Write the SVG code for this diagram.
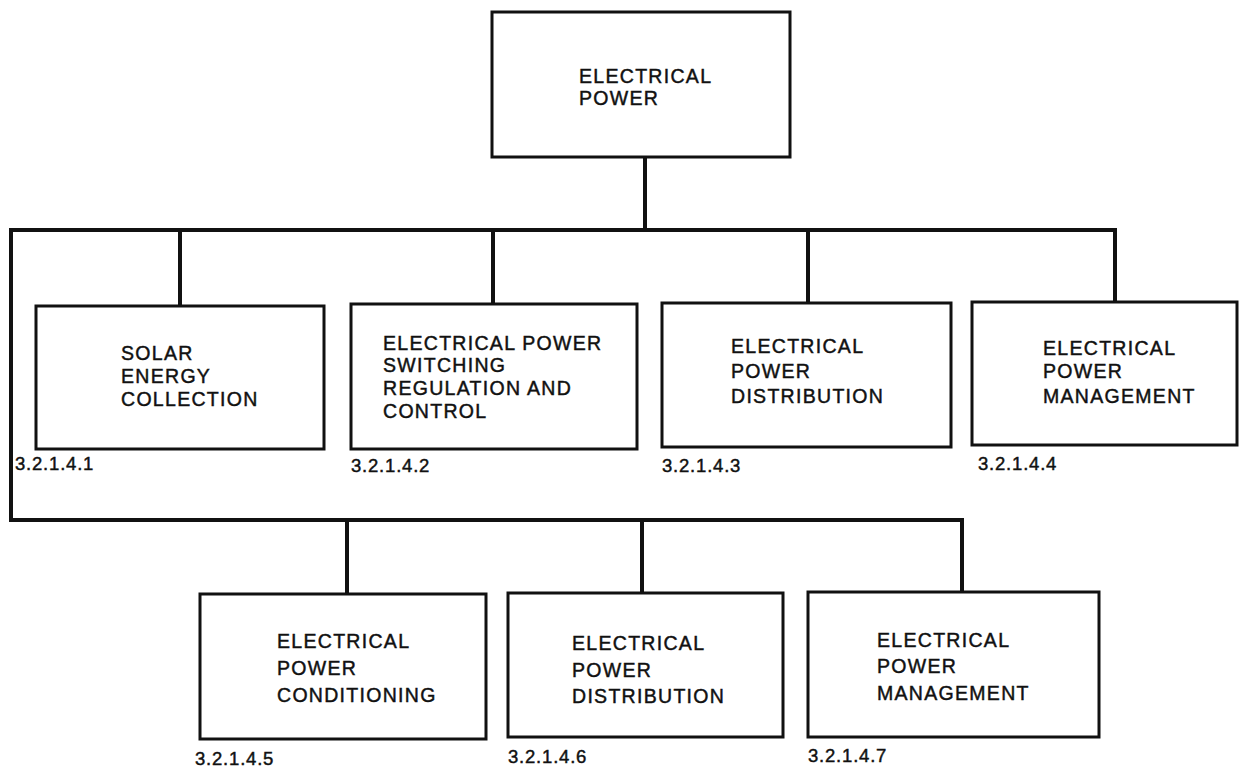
<svg xmlns="http://www.w3.org/2000/svg" width="1250" height="767" viewBox="0 0 1250 767">
<style>
.box{fill:#fff;stroke:#111;stroke-width:3}
.ln{fill:none;stroke:#111;stroke-width:4;stroke-linejoin:miter;stroke-linecap:square}
.t{font-family:"Liberation Sans",Arial,Helvetica,sans-serif;font-size:19.5px;letter-spacing:1.3px;fill:#111;stroke:#111;stroke-width:0.45}
.n{font-family:"Liberation Sans",Arial,Helvetica,sans-serif;font-size:18.5px;letter-spacing:0.8px;fill:#111;stroke:#111;stroke-width:0.45}
</style>
<rect width="1250" height="767" fill="#fff"/>
<g id="connectors">
<path class="ln" d="M645 157 V230"/>
<path class="ln" d="M11 230 H1115 V302"/>
<path class="ln" d="M180 230 V306"/>
<path class="ln" d="M493 230 V304"/>
<path class="ln" d="M808 230 V303"/>
<path class="ln" d="M11 230 V520 H962 V592"/>
<path class="ln" d="M347 520 V594"/>
<path class="ln" d="M642 520 V593"/>
</g>
<g id="n0">
<rect class="box" x="492" y="12" width="298" height="145"/>
<text class="t" x="579" y="83">ELECTRICAL</text>
<text class="t" x="579" y="105">POWER</text>
</g>
<g id="n1">
<rect class="box" x="36" y="306" width="288" height="143"/>
<text class="t" x="121" y="360">SOLAR</text>
<text class="t" x="121" y="383">ENERGY</text>
<text class="t" x="121" y="406">COLLECTION</text>
<text class="n" x="15" y="470">3.2.1.4.1</text>
</g>
<g id="n2">
<rect class="box" x="351" y="304" width="286" height="145"/>
<text class="t" x="383" y="350">ELECTRICAL POWER</text>
<text class="t" x="383" y="372">SWITCHING</text>
<text class="t" x="383" y="395">REGULATION AND</text>
<text class="t" x="383" y="418">CONTROL</text>
<text class="n" x="351" y="472">3.2.1.4.2</text>
</g>
<g id="n3">
<rect class="box" x="662" y="303" width="289" height="144"/>
<text class="t" x="731" y="353">ELECTRICAL</text>
<text class="t" x="731" y="378">POWER</text>
<text class="t" x="731" y="403">DISTRIBUTION</text>
<text class="n" x="662" y="472">3.2.1.4.3</text>
</g>
<g id="n4">
<rect class="box" x="972" y="302" width="265" height="143"/>
<text class="t" x="1043" y="355">ELECTRICAL</text>
<text class="t" x="1043" y="378">POWER</text>
<text class="t" x="1043" y="403">MANAGEMENT</text>
<text class="n" x="978" y="470">3.2.1.4.4</text>
</g>
<g id="n5">
<rect class="box" x="200" y="594" width="286" height="145"/>
<text class="t" x="277" y="648">ELECTRICAL</text>
<text class="t" x="277" y="675">POWER</text>
<text class="t" x="277" y="702">CONDITIONING</text>
<text class="n" x="195" y="765">3.2.1.4.5</text>
</g>
<g id="n6">
<rect class="box" x="508" y="593" width="275" height="144"/>
<text class="t" x="572" y="650">ELECTRICAL</text>
<text class="t" x="572" y="677">POWER</text>
<text class="t" x="572" y="703">DISTRIBUTION</text>
<text class="n" x="508" y="763">3.2.1.4.6</text>
</g>
<g id="n7">
<rect class="box" x="808" y="592" width="291" height="145"/>
<text class="t" x="877" y="647">ELECTRICAL</text>
<text class="t" x="877" y="673">POWER</text>
<text class="t" x="877" y="700">MANAGEMENT</text>
<text class="n" x="808" y="762">3.2.1.4.7</text>
</g>
</svg>
